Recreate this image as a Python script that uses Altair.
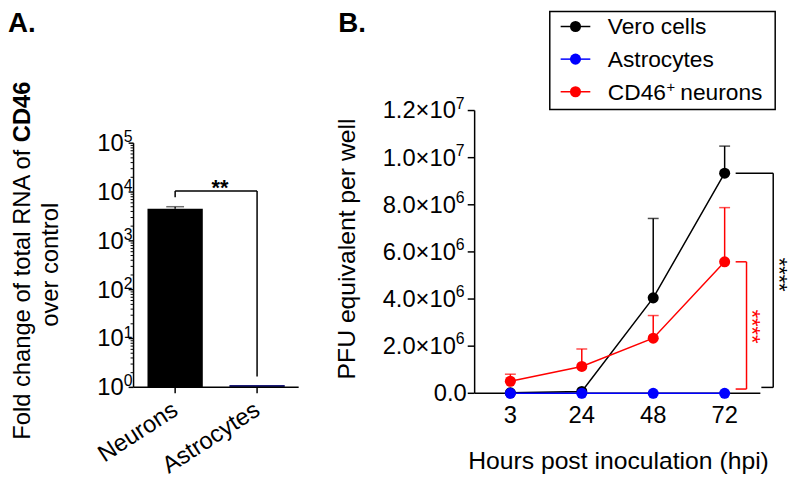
import altair as alt
import pandas as pd

FONT = "Liberation Sans"

# ---------------- Panel A data ----------------
cells = ["Neurons", "Astrocytes"]
fold_change = [4550, 1.12]
fold_err = [450, 0]
bar_colors = ["#000000", "#1b1b78"]

a_ticks = [1, 10, 100, 1000, 10000, 100000]
a_tick_base = ["10", "10", "10", "10", "10", "10"]
a_tick_sup = ["0", "1", "2", "3", "4", "5"]
a_minor = [m * 10 ** k for k in range(5) for m in range(2, 10)]

a_title_1 = "Fold change of total RNA of "
a_title_bold = "CD46"
a_title_2 = "over control"
a_sig = "**"
a_bracket_top = 1.05e4
a_bracket_left_bottom = 7800
a_bracket_right_bottom = 1.67

# ---------------- Panel B data ----------------
hours = ["3", "24", "48", "72"]
series = ["Vero cells", "Astrocytes", "CD46+ neurons"]
series_colors = ["#000000", "#0000ff", "#ff0000"]
vero = [0.02e6, 0.08e6, 4.05e6, 9.34e6]
vero_err = [0, 0, 3.37e6, 1.15e6]
astro = [0, 0, 0, 0]
astro_err = [0, 0, 0, 0]
cd46 = [0.51e6, 1.14e6, 2.34e6, 5.58e6]
cd46_err = [0.30e6, 0.74e6, 0.96e6, 2.30e6]

b_ticks = [0, 2e6, 4e6, 6e6, 8e6, 1e7, 1.2e7]
b_tick_base = ["0.0", "2.0×10", "4.0×10", "6.0×10", "8.0×10", "1.0×10", "1.2×10"]
b_tick_sup = ["", "6", "6", "6", "6", "7", "7"]

b_xtitle = "Hours post inoculation (hpi)"
b_ytitle = "PFU equivalent per well"
b_sig = "****"
b_black_bracket_bottom = 0.25e6
b_red_bracket_bottom = 0.18e6

lone = pd.DataFrame({"k": [0]})
SW = 1.5


def txt(x, y, s, size, align="left", weight="normal", angle=0, color="black"):
    kw = dict(align=align, baseline="alphabetic", fontSize=size,
              fontWeight=weight, color=color)
    if angle:
        kw["angle"] = angle
    return alt.Chart(lone).mark_text(**kw).encode(
        x=alt.value(x), y=alt.value(y), text=alt.value(s))


def vseg(scale, xpix, y1, y2, col="black"):
    d = pd.DataFrame({"a": [y1], "b": [y2]})
    return alt.Chart(d).mark_rule(color=col, strokeWidth=SW).encode(
        x=alt.value(xpix), y=alt.Y("a:Q", scale=scale, axis=None), y2="b:Q")


def hseg(scale, x1, x2, yv, col="black"):
    d = pd.DataFrame({"a": [yv]})
    return alt.Chart(d).mark_rule(color=col, strokeWidth=SW).encode(
        x=alt.value(x1), x2=alt.value(x2), y=alt.Y("a:Q", scale=scale, axis=None))


# =============== Panel A ===============
WA, HA = 167, 280
yA = alt.Scale(type="log", domain=[1, 1e5], range=[HA, 33])
xA = alt.Scale(domain=cells, paddingInner=0.325, paddingOuter=0.17)
XA = dict(scale=xA, sort=cells, axis=None)

dfA = pd.DataFrame({
    "cell": cells,
    "value": fold_change,
    "upper": [v + e for v, e in zip(fold_change, fold_err)],
    "err": fold_err,
    "color": bar_colors,
    "floor": [a_ticks[0], a_ticks[0]],
    "top": [a_bracket_top, a_bracket_top],
    "bottom": [a_bracket_left_bottom, a_bracket_right_bottom],
})

bars = alt.Chart(dfA).mark_bar().encode(
    x=alt.X("cell:N", **XA),
    y=alt.Y("value:Q", scale=yA, axis=None),
    y2="floor:Q",
    color=alt.Color("color:N", scale=None),
)
errA = alt.Chart(dfA).transform_filter("datum.err > 0").mark_rule(
    color="black", strokeWidth=SW).encode(
    x=alt.X("cell:N", **XA), y=alt.Y("value:Q", scale=yA, axis=None), y2="upper:Q")
capA = alt.Chart(dfA).transform_filter("datum.err > 0").mark_tick(
    color="#333333", size=18, thickness=1.5).encode(
    x=alt.X("cell:N", **XA), y=alt.Y("upper:Q", scale=yA, axis=None))

# axes A drawn with rules on the chart's scales
domAy = vseg(yA, 0, a_ticks[0], a_ticks[-1])
domAx = alt.Chart(lone).mark_rule(color="black", strokeWidth=SW).encode(
    x=alt.value(0), x2=alt.value(WA), y=alt.value(HA))
minorA = alt.Chart(pd.DataFrame({"v": a_minor})).mark_rule(
    color="black", strokeWidth=1).encode(
    y=alt.Y("v:Q", scale=yA, axis=None), x=alt.value(-3), x2=alt.value(0))
majorA = alt.Chart(pd.DataFrame({"v": a_ticks})).mark_rule(
    color="black", strokeWidth=SW).encode(
    y=alt.Y("v:Q", scale=yA, axis=None), x=alt.value(-5), x2=alt.value(0))
xticksA = alt.Chart(dfA).mark_rule(color="black", strokeWidth=SW).encode(
    x=alt.X("cell:N", **XA), y=alt.value(HA), y2=alt.value(HA + 6))
xlabA = alt.Chart(dfA).mark_text(align="right", baseline="top", angle=327,
                                 fontSize=24, dx=-7).encode(
    x=alt.X("cell:N", **XA), y=alt.value(HA + 7), text="cell:N")

ticklabA = pd.DataFrame({"v": a_ticks, "base": a_tick_base, "sup": a_tick_sup})
baseA = alt.Chart(ticklabA).mark_text(align="right", baseline="alphabetic",
                                      fontSize=24, dy=8).encode(
    y=alt.Y("v:Q", scale=yA, axis=None), x=alt.value(-10), text="base:N")
supA = alt.Chart(ticklabA).mark_text(align="left", baseline="alphabetic",
                                     fontSize=16, dy=-1).encode(
    y=alt.Y("v:Q", scale=yA, axis=None), x=alt.value(-10), text="sup:N")

# bracket A
legsA = alt.Chart(dfA).mark_rule(color="black", strokeWidth=SW).encode(
    x=alt.X("cell:N", **XA), y=alt.Y("top:Q", scale=yA, axis=None), y2="bottom:Q")
horizA = alt.Chart(pd.DataFrame({"c1": [cells[0]], "c2": [cells[1]],
                                 "y": [a_bracket_top]})).mark_rule(
    color="black", strokeWidth=SW).encode(
    x=alt.X("c1:N", **XA), x2="c2:N", y=alt.Y("y:Q", scale=yA, axis=None))

panelA = alt.layer(
    bars, errA, capA, domAy, domAx, minorA, majorA, xticksA, xlabA, baseA, supA,
    legsA, horizA,
    txt(87.5, 85, a_sig, 22, align="center", weight="bold"),
    txt(-127, -79, "A.", 28, weight="bold"),
    txt(-105, 333, a_title_1, 24, angle=270),
    txt(-105, 32, a_title_bold, 24, angle=270, weight="bold"),
    txt(-76, 156, a_title_2, 24, align="center", angle=270),
).properties(width=WA, height=HA)

# =============== Panel B ===============
WB, HB = 289, 286
xB = alt.Scale(type="point", domain=hours, padding=0.5)
yB = alt.Scale(domain=[0, 1.2e7], nice=False, zero=True)
XB = dict(scale=xB, sort=hours, axis=None)

data_by_series = {
    "Vero cells": (vero, vero_err),
    "Astrocytes": (astro, astro_err),
    "CD46+ neurons": (cd46, cd46_err),
}

# axes B
domBy = vseg(yB, 0, b_ticks[0], b_ticks[-1])
domBx = hseg(yB, 0, WB, b_ticks[0])
yticksB = alt.Chart(pd.DataFrame({"v": b_ticks})).mark_rule(
    color="black", strokeWidth=SW).encode(
    y=alt.Y("v:Q", scale=yB, axis=None), x=alt.value(-7), x2=alt.value(0))
hdf = pd.DataFrame({"hour": hours})
xticksB = alt.Chart(hdf).mark_rule(color="black", strokeWidth=SW).encode(
    x=alt.X("hour:O", **XB), y=alt.value(HB), y2=alt.value(HB + 5))
xlabB = alt.Chart(hdf).mark_text(align="center", baseline="alphabetic",
                                 fontSize=24).encode(
    x=alt.X("hour:O", **XB), y=alt.value(HB + 30), text="hour:N")

layersB = [domBy, domBx, yticksB, xticksB, xlabB]
for name in ["Vero cells", "CD46+ neurons", "Astrocytes"]:
    vals, errs = data_by_series[name]
    col = series_colors[series.index(name)]
    df = pd.DataFrame({"hour": hours, "value": vals, "err": errs,
                       "upper": [v + e for v, e in zip(vals, errs)]})
    xn = alt.X("hour:O", **XB)
    yn = alt.Y("value:Q", scale=yB, axis=None)
    base = alt.Chart(df)
    line = base.mark_line(color=col, strokeWidth=SW).encode(x=xn, y=yn)
    err_rule = base.transform_filter("datum.err > 0").mark_rule(
        color=col, strokeWidth=SW).encode(x=xn, y=yn, y2="upper:Q")
    cap = base.transform_filter("datum.err > 0").mark_tick(
        color=col, size=11, thickness=1.5).encode(
        x=xn, y=alt.Y("upper:Q", scale=yB, axis=None))
    pts = base.mark_circle(color=col, size=125, opacity=1).encode(x=xn, y=yn)
    layersB += [line, err_rule, cap, pts]

ticklabB = pd.DataFrame({"v": b_ticks, "base": b_tick_base, "sup": b_tick_sup})
baseB1 = alt.Chart(ticklabB).transform_filter("datum.sup != ''").mark_text(
    align="right", baseline="alphabetic", fontSize=24, dy=8).encode(
    y=alt.Y("v:Q", scale=yB, axis=None), x=alt.value(-19), text="base:N")
supB = alt.Chart(ticklabB).transform_filter("datum.sup != ''").mark_text(
    align="left", baseline="alphabetic", fontSize=16, dy=-2).encode(
    y=alt.Y("v:Q", scale=yB, axis=None), x=alt.value(-19), text="sup:N")
baseB0 = alt.Chart(ticklabB).transform_filter("datum.sup == ''").mark_text(
    align="right", baseline="alphabetic", fontSize=24, dy=8).encode(
    y=alt.Y("v:Q", scale=yB, axis=None), x=alt.value(-8), text="base:N")

brackets = [
    hseg(yB, 264, 302, vero[3]),
    vseg(yB, 302, vero[3], b_black_bracket_bottom),
    hseg(yB, 290, 302, b_black_bracket_bottom),
    hseg(yB, 264, 275, cd46[3], "#ff0000"),
    vseg(yB, 275, cd46[3], b_red_bracket_bottom, "#ff0000"),
    hseg(yB, 264, 275, b_red_bracket_bottom, "#ff0000"),
]

# legend (drawn by hand)
legend_layers = [
    alt.Chart(lone).mark_rect(fill="white", fillOpacity=0, stroke="black",
                              strokeWidth=SW).encode(
        x=alt.value(76), x2=alt.value(304), y=alt.value(-100.25),
        y2=alt.value(-1))
]
row_y = [-85, -52, -19]
for i, name in enumerate(series):
    col = series_colors[i]
    cy = row_y[i]
    legend_layers.append(alt.Chart(lone).mark_rule(color=col, strokeWidth=SW).encode(
        x=alt.value(87), x2=alt.value(117), y=alt.value(cy)))
    legend_layers.append(alt.Chart(lone).mark_circle(color=col, size=125, opacity=1).encode(
        x=alt.value(102), y=alt.value(cy)))
    if name.endswith("+ neurons"):
        legend_layers.append(txt(134.7, cy + 8, "CD46", 23))
        legend_layers.append(txt(194, cy, "+", 15))
        legend_layers.append(txt(208, cy + 8, "neurons", 23))
    else:
        legend_layers.append(txt(134.7, cy + 8, name, 23))

panelB = alt.layer(
    *layersB, baseB1, supB, baseB0, *brackets,
    txt(300.5, 166, b_sig, 22, align="center", angle=90),
    txt(273.7, 218.5, b_sig, 22, align="center", angle=90, color="#ff0000"),
    txt(-138, -79, "B.", 28, weight="bold"),
    txt(-121, 140, b_ytitle, 25, align="center", angle=270),
    txt(145.5, 363, b_xtitle, 25, align="center"),
    *legend_layers,
).properties(width=WB, height=HB)

chart = alt.hconcat(panelA, panelB, spacing=36).properties(
    padding={"left": 0, "top": 0, "right": 2, "bottom": 0}
).configure(font=FONT).configure_view(strokeWidth=0)

chart.save("out.html", embed_options={"renderer": "svg", "actions": False})
